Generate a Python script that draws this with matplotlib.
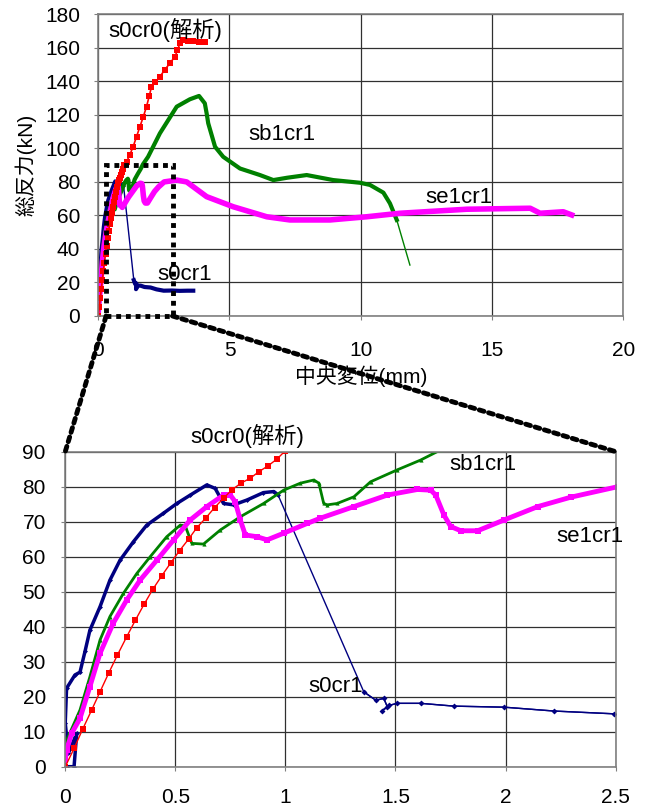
import numpy as np
import matplotlib
matplotlib.use("Agg")
import matplotlib.pyplot as plt
from matplotlib.patches import Rectangle, ConnectionPatch
from matplotlib.ticker import FuncFormatter

plt.rcParams['font.family'] = ['Liberation Sans', 'Noto Sans CJK JP']

# --- data (displacement mm, total reaction kN) ---
s0cr0_x = [0.0, 0.04, 0.079, 0.12, 0.158, 0.197, 0.237, 0.279, 0.319, 0.358, 0.398,
           0.439, 0.48, 0.519, 0.56, 0.598, 0.639, 0.678, 0.719, 0.757, 0.798, 0.84,
           0.88, 0.92, 0.962, 1.0, 1.08, 1.2, 1.33, 1.46, 1.59, 1.72, 1.84, 1.94, 2.03,
           2.18, 2.35, 2.54, 2.73, 2.92, 3.02, 3.11, 3.24, 3.42, 3.62, 3.84, 4.07]
s0cr0_y = [0.0, 5.2, 10.7, 16.2, 21.4, 26.7, 31.9, 37.1, 41.9, 46.4, 50.7,
           54.6, 58.3, 61.7, 65.0, 68.3, 71.1, 74.0, 76.7, 79.1, 81.0, 82.4,
           84.3, 85.9, 87.9, 90.3, 92.0, 96.0, 101.0, 107.0, 113.0, 119.0, 124.9, 131.0, 136.8,
           139.5, 142.8, 147.0, 150.8, 154.7, 158.5, 162.7, 164.8, 164.0, 164.0, 163.5, 163.3]

s0cr1_x = [0.006, 0.04, 0.052, 0.014, 0.0, 0.006, 0.044, 0.067, 0.09, 0.112, 0.158,
           0.203, 0.249, 0.31, 0.37, 0.446, 0.507, 0.568, 0.643, 0.681, 0.719, 0.765,
           0.826, 0.9, 0.947, 0.966, 1.356, 1.41, 1.447, 1.463, 1.44, 1.47, 1.508, 1.614,
           1.766, 1.994, 2.22, 2.494, 2.8, 3.1, 3.4, 3.62]
s0cr1_y = [0.0, 0.0, 9.5, 3.8, 12.5, 22.4, 26.2, 27.0, 33.0, 39.0, 45.7,
           53.3, 59.0, 64.3, 69.0, 72.4, 75.2, 77.6, 80.5, 79.5, 75.2, 74.8,
           76.2, 78.3, 78.6, 77.7, 21.4, 19.0, 19.5, 17.1, 16.0, 17.5, 18.1, 18.1,
           17.3, 17.0, 15.9, 15.1, 15.2, 15.0, 15.1, 15.1]

sb1cr1_x = [0.0, 0.006, 0.02, 0.067, 0.112, 0.158, 0.203, 0.264, 0.325, 0.386, 0.461,
            0.522, 0.545, 0.575, 0.628, 0.704, 0.795, 0.901, 0.992, 1.068, 1.129, 1.152,
            1.174, 1.19, 1.235, 1.311, 1.387, 1.508, 1.614, 1.705, 1.9, 2.35, 2.99, 3.49,
            3.84, 4.06, 4.13, 4.19, 4.45, 4.76, 5.4, 6.16, 6.67, 7.2, 7.94, 8.95, 9.97,
            10.35, 10.86, 11.11, 11.37, 11.87]
sb1cr1_y = [5.0, 7.6, 9.5, 16.2, 25.7, 36.2, 42.9, 49.5, 55.2, 60.0, 65.7,
            69.0, 68.8, 63.8, 63.6, 67.6, 71.4, 75.2, 79.0, 81.0, 81.9, 81.0,
            75.2, 74.8, 75.2, 77.1, 81.4, 84.8, 87.6, 90.5, 95.0, 109.0, 124.9, 129.3,
            131.3, 126.9, 120.9, 115.0, 101.0, 95.0, 88.0, 84.1, 81.1, 82.5, 84.1, 81.1, 79.5,
            78.2, 73.6, 67.2, 57.3, 30.4]

se1cr1_x = [0.0, 0.006, 0.029, 0.067, 0.112, 0.158, 0.218, 0.279, 0.34, 0.416, 0.492,
            0.568, 0.643, 0.719, 0.75, 0.772, 0.795, 0.818, 0.871, 0.917, 0.992, 1.099,
            1.159, 1.311, 1.463, 1.6, 1.66, 1.683, 1.72, 1.751, 1.797, 1.873, 1.994, 2.146,
            2.297, 2.51, 2.99, 3.37, 4.13, 5.14, 6.42, 7.3, 8.83, 10.22, 11.49, 14.03,
            16.45, 16.83, 17.71, 18.03]
se1cr1_y = [1.9, 4.8, 9.5, 13.8, 22.9, 32.4, 41.0, 47.6, 53.3, 59.0, 64.8,
            70.5, 74.3, 77.6, 77.6, 75.7, 70.5, 66.2, 65.7, 64.8, 66.7, 69.5,
            71.0, 74.3, 77.6, 79.2, 79.0, 77.6, 71.9, 68.6, 67.4, 67.4, 70.5, 74.3,
            77.0, 80.0, 81.1, 80.0, 71.2, 65.2, 59.2, 57.3, 57.3, 59.2, 61.3, 63.7,
            64.3, 61.3, 62.2, 60.3]

top_xticks = [0, 5, 10, 15, 20]
top_yticks = list(range(0, 181, 20))
bot_xticks = [0, 0.5, 1, 1.5, 2, 2.5]
bot_yticks = list(range(0, 91, 10))

NAVY = '#000080'
GREEN = '#008000'
MAGENTA = '#FF00FF'
RED = '#FF0000'
DOTS = (0, (1, 1))

fig = plt.figure(figsize=(6.46, 8.09), dpi=100)
ax1 = fig.add_axes([0.152, 0.6094, 0.813, 0.3729])
ax2 = fig.add_axes([0.101, 0.0523, 0.852, 0.3894])


def style_axes(ax, xticks, yticks, xpad, ypad):
    ax.set_xticks(xticks)
    ax.set_yticks(yticks)
    ax.set_xlim(xticks[0], xticks[-1])
    ax.set_ylim(yticks[0], yticks[-1])
    ax.grid(True, color='#303030', lw=0.9)
    ax.set_axisbelow(True)
    for s in ax.spines.values():
        s.set_color('#808080')
        s.set_linewidth(1.2)
    ax.tick_params(axis='x', length=3, pad=xpad, labelsize=15, color='#808080')
    ax.tick_params(axis='y', length=3, pad=ypad, labelsize=15, color='#808080')
    ax.xaxis.set_major_formatter(FuncFormatter(lambda v, p: '%g' % v))


# top: full range
style_axes(ax1, top_xticks, top_yticks, 15, 10)
ax1.plot(s0cr1_x, s0cr1_y, color=NAVY, lw=1.0)
ax1.plot(s0cr1_x[:26], s0cr1_y[:26], color=NAVY, lw=2.5)
ax1.plot(s0cr1_x[26:], s0cr1_y[26:], color=NAVY, lw=3)
ax1.plot(sb1cr1_x, sb1cr1_y, color=GREEN, lw=1.0)
ax1.plot(sb1cr1_x[:-1], sb1cr1_y[:-1], color=GREEN, lw=3)
ax1.plot(se1cr1_x, se1cr1_y, color=MAGENTA, lw=4)
ax1.plot(s0cr0_x, s0cr0_y, color=RED, lw=1.2, marker='s', ms=4, mew=0)
ax1.set_ylabel('総反力(kN)', fontsize=15, labelpad=6)
ax1.set_xlabel('中央変位(mm)', fontsize=15, labelpad=4)

ax1.text(0.37, 170.5, 's0cr0(解析)', fontsize=16, va='center')
ax1.text(5.7, 108, 'sb1cr1', fontsize=16, va='center')
ax1.text(12.45, 70.5, 'se1cr1', fontsize=16, va='center')
ax1.text(2.27, 24.5, 's0cr1', fontsize=16, va='center')

# zoom box
box_x0, box_x1, box_y1 = 0.3, 2.83, 90
ax1.add_patch(Rectangle((box_x0, 0), box_x1 - box_x0, box_y1, fill=False,
                        ls=DOTS, lw=3.5, ec='black', clip_on=False, zorder=5))

# bottom: zoom 0-2.5
style_axes(ax2, bot_xticks, bot_yticks, 12, 11)
ax2.plot(s0cr1_x, s0cr1_y, color=NAVY, lw=1.0, marker='D', ms=2.5, mew=0)
ax2.plot(s0cr1_x[:26], s0cr1_y[:26], color=NAVY, lw=2.5)
ax2.plot(s0cr1_x[26:], s0cr1_y[26:], color=NAVY, lw=1.0, marker='D', ms=3, mew=0)
ax2.plot(sb1cr1_x, sb1cr1_y, color=GREEN, lw=2, marker='^', ms=3, mew=0)
ax2.plot(se1cr1_x, se1cr1_y, color=MAGENTA, lw=3.5, marker='s', ms=4, mew=0)
ax2.plot(s0cr0_x, s0cr0_y, color=RED, lw=1.0, marker='s', ms=4, mew=0)

ax2.text(0.567, 94.5, 's0cr0(解析)', fontsize=16, va='center')
ax2.text(1.743, 86.2, 'sb1cr1', fontsize=16, va='center')
ax2.text(2.23, 65.9, 'se1cr1', fontsize=16, va='center')
ax2.text(1.105, 22.8, 's0cr1', fontsize=16, va='center')

# connector lines from the box to the zoomed axes
for xa, xb in [(box_x0, 0), (box_x1, 2.5)]:
    con = ConnectionPatch(xyA=(xa, 0), coordsA=ax1.transData,
                          xyB=(xb, 90), coordsB=ax2.transData,
                          ls=DOTS, lw=3.5, color='black')
    fig.add_artist(con)

fig.savefig('out.png', dpi=100)
